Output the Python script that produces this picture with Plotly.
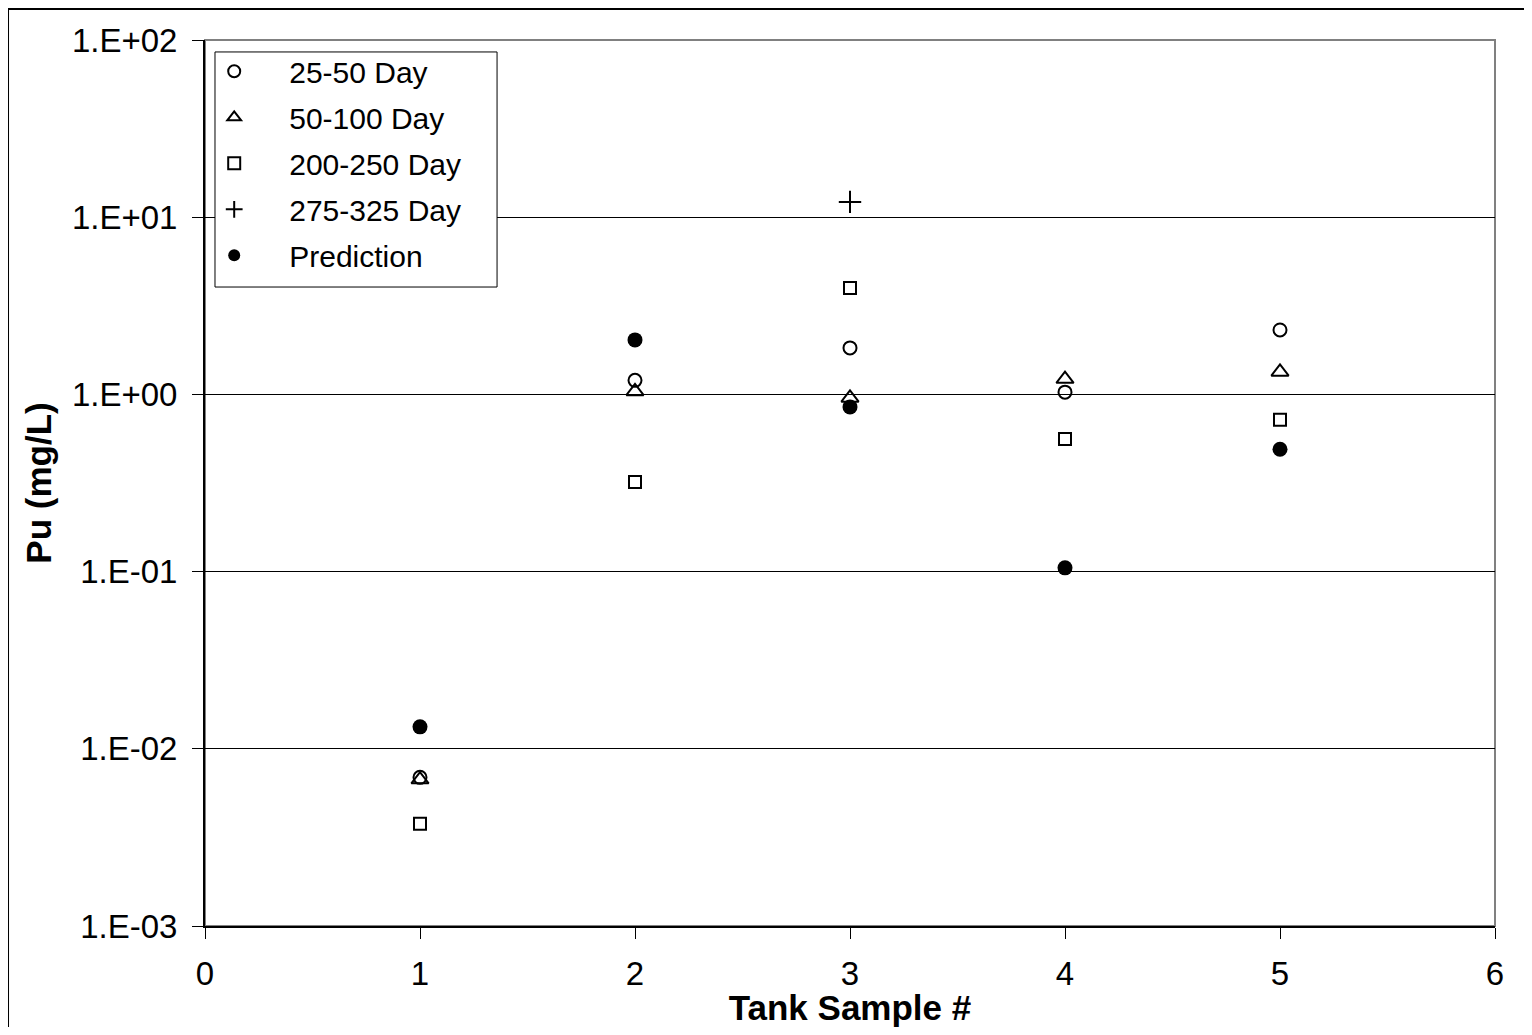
import plotly.graph_objects as go

samples = [1, 2, 3, 4, 5]
day_25_50 = [0.0069, 1.20, 1.83, 1.03, 2.31]
day_50_100 = [0.0067, 1.04, 0.955, 1.22, 1.34]
day_200_250 = [0.00377, 0.32, 3.98, 0.56, 0.72]
day_275_325_x = [3]
day_275_325 = [12.2]
prediction = [0.0133, 2.03, 0.85, 0.105, 0.49]

ytick_vals = [1e-3, 1e-2, 1e-1, 1e0, 1e1, 1e2]
ytick_text = ["1.E-03", "1.E-02", "1.E-01", "1.E+00", "1.E+01", "1.E+02"]
xtick_vals = [0, 1, 2, 3, 4, 5, 6]

FONT = "Liberation Sans, Arial, sans-serif"

fig = go.Figure()
fig.add_trace(go.Scatter(x=samples, y=day_25_50, mode="markers", name="25-50 Day", legendgroup="a",
                         marker=dict(symbol="circle-open", size=13, color="black", line=dict(width=2, color="black"))))
fig.add_trace(go.Scatter(x=samples, y=day_50_100, mode="markers", name="50-100 Day", legendgroup="b",
                         marker=dict(symbol="triangle-up-open", size=15, color="black", line=dict(width=2, color="black"))))
fig.add_trace(go.Scatter(x=samples, y=day_200_250, mode="markers", name="200-250 Day", legendgroup="c",
                         marker=dict(symbol="square-open", size=12, color="black", line=dict(width=2, color="black"))))
fig.add_trace(go.Scatter(x=day_275_325_x, y=day_275_325, mode="markers", name="275-325 Day", legendgroup="d",
                         marker=dict(symbol="cross-thin-open", size=16, color="black", line=dict(width=2, color="black"))))
fig.add_trace(go.Scatter(x=samples, y=prediction, mode="markers", name="Prediction", legendgroup="e",
                         marker=dict(symbol="circle", size=15, color="black")))

fig.update_layout(
    width=1516, height=1019,
    margin=dict(l=197, r=29, t=32, b=101, autoexpand=False),
    paper_bgcolor="white", plot_bgcolor="white",
    font=dict(family=FONT, size=30, color="black"),
    showlegend=True,
    legend=dict(x=-0.02, y=0.994, xanchor="left", yanchor="top",
                borderwidth=0, bgcolor="rgba(0,0,0,0)",
                font=dict(family=FONT, size=30, color="black"),
                itemsizing="constant", itemwidth=100, tracegroupgap=4),
    shapes=[
        dict(type="rect", xref="x domain", yref="y domain", x0=0, x1=1, y0=0, y1=1,
             line=dict(color="#808080", width=2), layer="below"),
        dict(type="rect", xref="paper", yref="paper", x0=-0.1527, x1=1.1, y0=-0.2, y1=1.035,
             line=dict(color="black", width=2), layer="below"),
        dict(type="rect", xref="paper", yref="paper", x0=0.00775, x1=0.2264, y0=0.7212, y1=0.9865,
             line=dict(color="black", width=1), fillcolor="white", layer="above"),
    ],
)
fig.update_xaxes(range=[0, 6], tickvals=xtick_vals, showgrid=False, zeroline=False,
                 showline=True, linecolor="black", linewidth=2, automargin=False,
                 ticks="outside", ticklen=11, tickcolor="black", tickwidth=1,
                 ticklabelstandoff=6,
                 tickfont=dict(family=FONT, size=33),
                 title=dict(text="<b>Tank Sample #</b>", font=dict(family=FONT, size=35), standoff=10))
fig.update_yaxes(type="log", range=[-3, 2], tickvals=ytick_vals, ticktext=ytick_text,
                 showgrid=True, gridcolor="black", gridwidth=1, zeroline=False,
                 showline=True, linecolor="black", linewidth=2, automargin=False,
                 ticks="outside", ticklen=11, tickcolor="black", tickwidth=1,
                 ticklabelstandoff=8,
                 tickfont=dict(family=FONT, size=33),
                 title=dict(text="<b>Pu (mg/L)</b>", font=dict(family=FONT, size=35), standoff=10))

fig.write_html("out.html")
